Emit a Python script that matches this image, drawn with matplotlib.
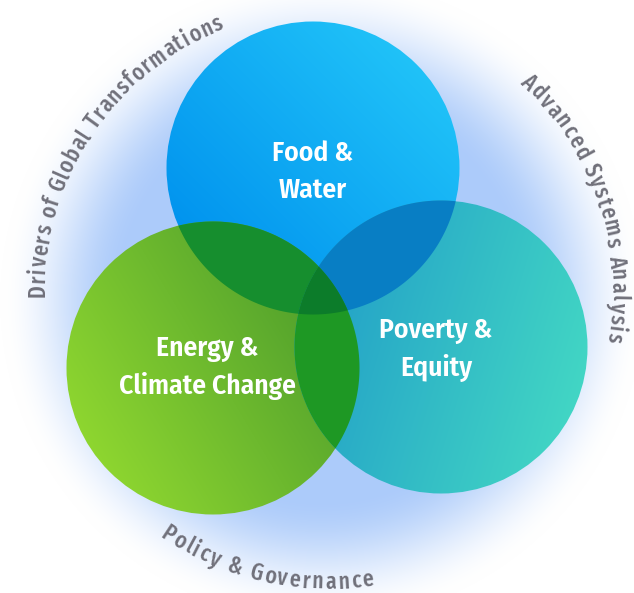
import numpy as np
import matplotlib
matplotlib.use("Agg")
import matplotlib.pyplot as plt
from matplotlib.patches import Circle, Polygon
from matplotlib import font_manager as fm
from matplotlib.font_manager import FontProperties

# ---------------- data ----------------
circle_names = ["Food & Water", "Energy & Climate Change", "Poverty & Equity"]
circle_label_lines = [["Food &", "Water"], ["Energy &", "Climate Change"], ["Poverty &", "Equity"]]
ring_labels = ["Drivers of Global Transformations", "Advanced Systems Analysis", "Policy & Governance"]

# ---------------- layout / style ----------------
W, H, DPI = 634, 593, 100
centers = [(313, 168), (213, 368), (441, 347)]
radius = 146.5
grad = [
    ((0, 146, 238), (32, 194, 248), (1.0, -1.0)),
    ((142, 214, 48), (76, 156, 44), (1.0, -0.6)),
    ((33, 158, 200), (66, 214, 196), (1.0, 0.3)),
]
overlap_colors = {
    (0, 1): (22, 142, 46),
    (0, 2): (8, 126, 196),
    (1, 2): (30, 152, 36),
    (0, 1, 2): (12, 124, 42),
}
label_offsets = [(0, -19), (0, 18)]
label_pos = [(313, 172), (207, 368), (436, 350)]

ring_center = (328, 292)
ring_r = 290
ring_arcs = [(181.0, 111.5, "cw"), (47.5, -10.0, "cw"), (235.5, 279.0, "ccw")]
ring_color = "#70707a"

names = {f.name for f in fm.fontManager.ttflist}
candidates = ["Myriad Pro Condensed", "Fira Sans Condensed", "PT Sans Narrow",
              "Roboto Condensed", "Encode Sans Condensed", "Open Sans Condensed",
              "Archivo Narrow", "Asap Condensed", "Liberation Sans Narrow"]
FAM = next((c for c in candidates if c in names), "DejaVu Sans")
ring_candidates = ["Fira Sans Extra Condensed", FAM]
RFAM = next((c for c in ring_candidates if c in names), FAM)
RSIZE = 17 if RFAM != FAM else 16

fig = plt.figure(figsize=(W / DPI, H / DPI), dpi=DPI)
ax = fig.add_axes([0, 0, 1, 1])
ax.set_xlim(0, W)
ax.set_ylim(H, 0)
ax.axis("off")

# background glow
yy, xx = np.mgrid[0:H, 0:W] + 0.5
rr = np.hypot(xx - 322, yy - 300)
w = np.clip((322 - rr) / 125.0, 0, 1)
w = w * w * (3 - 2 * w)
glow = np.array([172, 203, 250]) / 255.0
bg = (1 - w)[..., None] * 1.0 + w[..., None] * glow
ax.imshow(bg, extent=(0, W, H, 0), origin="upper", zorder=0, interpolation="bilinear")

# circle gradients
for (cx, cy), (c0, c1, d) in zip(centers, grad):
    d = np.array(d) / np.hypot(*d)
    t = ((xx - cx) * d[0] + (yy - cy) * d[1]) / radius
    t = np.clip((t + 1) / 2, 0, 1)[..., None]
    img = (1 - t) * (np.array(c0) / 255.0) + t * (np.array(c1) / 255.0)
    im = ax.imshow(img, extent=(0, W, H, 0), origin="upper", zorder=1, interpolation="bilinear")
    im.set_clip_path(Circle((cx, cy), radius, transform=ax.transData))


def region(idx):
    pts = []
    th = np.linspace(0, 2 * np.pi, 1440, endpoint=False)
    for i in idx:
        cx, cy = centers[i]
        p = np.column_stack([cx + radius * np.cos(th), cy + radius * np.sin(th)])
        keep = np.ones(len(p), bool)
        for j in idx:
            if j != i:
                keep &= np.hypot(p[:, 0] - centers[j][0], p[:, 1] - centers[j][1]) <= radius + 1e-6
        pts.append(p[keep])
    pts = np.vstack(pts)
    m = pts.mean(axis=0)
    ang = np.arctan2(pts[:, 1] - m[1], pts[:, 0] - m[0])
    return pts[np.argsort(ang)]


for k, idx in enumerate([(0, 1), (0, 2), (1, 2), (0, 1, 2)]):
    col = np.array(overlap_colors[idx]) / 255.0
    ax.add_patch(Polygon(region(idx), closed=True, facecolor=col, edgecolor="none",
                         zorder=2 + k * 0.1))

fig.canvas.draw()
renderer = fig.canvas.get_renderer()


def raw_width(s, prop):
    return renderer.get_text_width_height_descent(s, prop, ismath=False)[0]


# circle labels, sized so "Climate Change" spans ~177 px
lab_prop = FontProperties(family=FAM, weight=600, size=20)
scale = 177.0 / raw_width("Climate Change", lab_prop)
lab_prop.set_size(20 * scale)
for (lx, ly), lines in zip(label_pos, circle_label_lines):
    for (ox, oy), line in zip(label_offsets, lines):
        ax.text(lx + ox, ly + oy, line, fontproperties=lab_prop, color="white",
                ha="center", va="center", zorder=5)

# ring text
ring_prop = FontProperties(family=RFAM, weight=500, size=RSIZE)


def twidth(s):
    if not s:
        return 0.0
    return raw_width(s + "x", ring_prop) - raw_width("x", ring_prop)


def arc_text(text, a0, a1, mode):
    n = len(text)
    lefts = [twidth(text[:i]) for i in range(n + 1)]
    arc_len = ring_r * abs(np.radians(a1 - a0))
    extra = (arc_len - lefts[-1]) / (n - 1)
    sign = -1 if mode == "cw" else 1
    for i, ch in enumerate(text):
        s = lefts[i] + (lefts[i + 1] - lefts[i]) / 2 + extra * i
        th = a0 + sign * np.degrees(s / ring_r)
        x = ring_center[0] + ring_r * np.cos(np.radians(th))
        y = ring_center[1] - ring_r * np.sin(np.radians(th))
        rot = th - 90 if mode == "cw" else th + 90
        ax.text(x, y, ch, fontproperties=ring_prop, color=ring_color, ha="center",
                va="center", rotation=rot, rotation_mode="anchor", zorder=5)


for text, (a0, a1, mode) in zip(ring_labels, ring_arcs):
    arc_text(text, a0, a1, mode)

fig.savefig("out.png", dpi=DPI)
